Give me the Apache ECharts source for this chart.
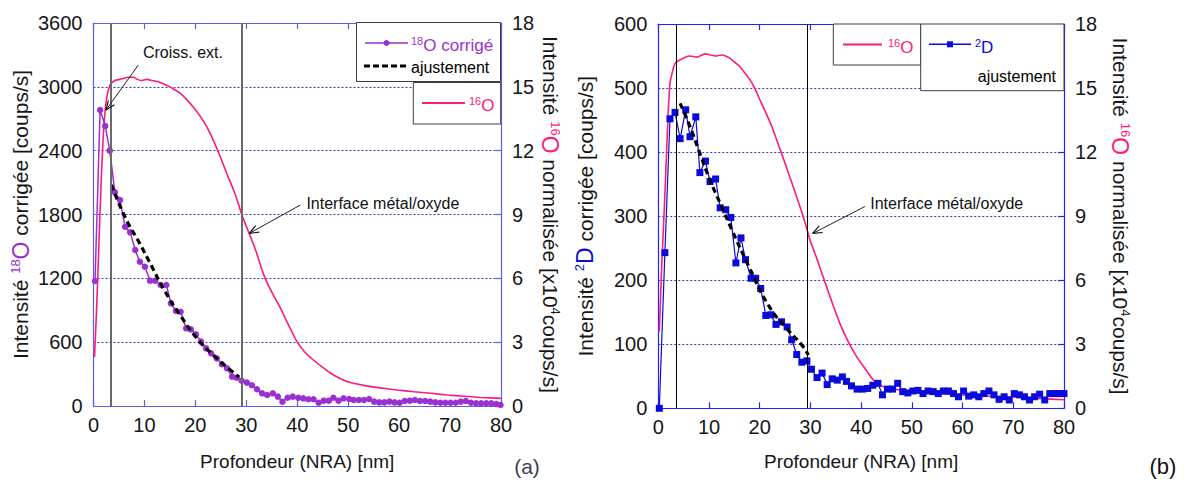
<!DOCTYPE html>
<html><head><meta charset="utf-8">
<script src="https://cdn.jsdelivr.net/npm/echarts@6/dist/echarts.min.js"></script>
<style>html,body{margin:0;padding:0;background:#fff}#c{width:1186px;height:487px}</style>
</head><body><div id="c"></div>
<script>
// ---------- data ----------
const depthTicks = [0, 10, 20, 30, 40, 50, 60, 70, 80];
const leftTicksA = [0, 600, 1200, 1800, 2400, 3000, 3600];
const leftTicksB = [0, 100, 200, 300, 400, 500, 600];
const rightTicks = [0, 3, 6, 9, 12, 15, 18];

// (a) 18O corrigé [coups/s]
const o18A = [[0.3,1175],[1.3,2782],[2.3,2632],[3.2,2400],[4.2,2008],[5.2,1936],[6.2,1685],[7.2,1632],[8.2,1466],[9.1,1356],[10.1,1309],[11.1,1178],[12.1,1178],[13.2,1137],[14.3,1137],[15.2,965],[16.2,893],[17.1,886],[18.2,730],[19.1,720],[20.1,674],[21.1,605],[22.1,542],[23.1,495],[24.2,448],[25.2,392],[26.2,354],[27.2,276],[28.1,266],[29.1,237],[30.1,220],[31.1,195],[32.1,157],[33.1,119],[34.1,103],[35.2,119],[36.2,88],[37.1,40],[38.1,78],[39.1,88],[40.2,78],[41.2,72],[42.2,63],[43.2,63],[44.2,31],[45.2,50],[46.2,50],[47.1,78],[48.1,50],[49.1,72],[50.2,66],[51.1,56],[52.1,56],[53.1,56],[54.1,66],[55.1,41],[56.1,34],[57.1,34],[58.1,41],[59.1,34],[60.1,31],[61.1,47],[62.1,50],[63.1,56],[64.1,47],[65.1,47],[66.1,41],[67.1,34],[68.1,31],[69.1,31],[70.1,31],[71.1,31],[72.1,41],[73.1,47],[74.1,31],[75.1,25],[76.1,25],[77.1,25],[78.1,25],[79.1,19],[79.9,9]];
// (a) ajustement
const fitA = [[3.5,2080],[6.2,1775],[9.1,1525],[11.4,1315],[14.0,1080],[17.0,855],[20.3,636],[24.2,448],[28.6,272]];
// (a) 16O normalisée [x10^4 coups/s]
const o16A = [[0.2,2.3],[0.6,4.5],[1.0,7.2],[1.5,10.5],[2.0,13.0],[2.6,14.5],[3.3,15.1],[4.2,15.3],[5.2,15.35],[6.0,15.4],[6.8,15.45],[7.8,15.45],[8.6,15.35],[9.3,15.3],[10.5,15.35],[11.4,15.3],[12.5,15.25],[13.7,15.15],[15.0,15.0],[16.0,14.85],[17.0,14.7],[18.3,14.4],[19.6,14.05],[21.0,13.6],[22.3,13.1],[23.6,12.45],[24.9,11.7],[26.2,10.9],[27.5,10.15],[28.3,9.6],[29.1,9.0],[30.0,8.45],[31.0,7.85],[32.0,7.2],[33.0,6.45],[33.7,6.0],[35.0,5.35],[36.7,4.6],[38.3,3.8],[40.0,3.0],[41.6,2.5],[43.2,2.15],[44.8,1.85],[46.5,1.55],[48.2,1.32],[49.8,1.15],[53.0,0.97],[56.3,0.85],[59.6,0.75],[62.9,0.67],[66.2,0.6],[69.4,0.52],[72.7,0.46],[76.0,0.4],[80,0.36]];

// (b) 2D corrigé [coups/s]
const d2B = [[0.2,0],[1.3,243],[2.3,452],[3.3,462],[4.3,421],[5.4,466],[6.25,424],[7.4,455],[8.2,368],[9.3,386],[10.2,354],[11.3,358],[12.2,313],[13.3,310],[14.3,298],[15.3,227],[16.3,266],[17.2,232],[18.3,203],[19.2,203],[20.2,187],[21.2,145],[22.2,146],[23.2,131],[24.3,135],[25.4,127],[26.3,107],[27.3,84],[28.3,72],[29.3,74],[30.2,61],[31.3,48],[32.3,55],[33.3,37],[34.3,46],[35.3,44],[36.3,49],[37.1,42],[38.1,35],[39.2,30],[40.3,30],[41.3,31],[42.3,36],[43.3,39],[44.2,21],[45.2,30],[46.2,30],[47.2,39],[48.2,26],[49.2,24],[50.2,27],[51.2,28],[52.2,23],[53.2,27],[54.2,26],[55.2,23],[56.2,27],[57.2,27],[58.2,23],[59.2,18],[60.2,27],[61.2,19],[62.2,21],[63.2,18],[64.2,23],[65.2,27],[66.2,21],[67.2,14],[68.2,18],[69.2,13],[70.2,23],[71.2,21],[72.2,18],[73.2,13],[74.2,18],[75.2,22],[76.2,13],[77.2,23],[78.2,23],[79.2,23],[80,23]];
// (b) ajustement
const fitB = [[4.3,476],[6.25,440],[8.2,398],[10.2,356],[12.2,320],[14.6,277],[17.7,224],[21.7,161],[25.6,122],[28.3,99],[29.6,83]];
// (b) 16O normalisée [x10^4 coups/s]
const o16B = [[0.2,3.6],[0.7,6.8],[1.3,10.0],[1.8,13.0],[2.3,15.2],[3.3,16.15],[4.9,16.4],[6.25,16.5],[7.6,16.45],[9.2,16.6],[10.3,16.55],[11.2,16.5],[12.5,16.55],[14.1,16.4],[15.1,16.2],[16.1,16.0],[17.1,15.7],[18.1,15.38],[19.1,14.95],[20.05,14.44],[21.2,13.85],[22.4,13.19],[24.3,11.94],[26.6,10.38],[28.6,8.97],[29.9,7.9],[31.2,7.05],[32.5,6.16],[34.2,5.0],[35.8,3.98],[37.4,3.15],[39.1,2.42],[40.8,1.85],[42.4,1.33],[44.4,1.01],[47,0.88],[50,0.78],[55,0.7],[60,0.62],[65,0.57],[70,0.53],[75,0.46],[80,0.4]];

// vertical reference lines (depth, nm)
const vLinesA = [3.45, 29.2];
const vLinesB = [3.6, 29.4];
// annotations: [text, textX, textY, arrowFromX, arrowFromY, arrowToX, arrowToY] in data units
const notesA = [["Croiss. ext.", 9.7, 3327, 8.8, 3205, 2.46, 2782], ["Interface métal/oxyde", 41.8, 1905, 40.6, 1889, 30.6, 1623]];
const notesB = [["Interface métal/oxyde", 41.8, 320, 40.75, 315, 30.44, 273]];

// ---------- styling ----------
const FONT = "'Liberation Sans', Arial, Helvetica, sans-serif";
const PURPLE = '#9b30d2', PINK = '#ff1a7a', BLUE = '#0a0adc';
const AXA = '#5c5cef', AXB = '#2222ff', GRIDC = '#3434d4', TXT = '#161616';

const chart = echarts.init(document.getElementById('c'), null, {renderer: 'svg'});
const plain = v => String(v);

function xAxis(gi, pos, col, name, gap) {
  return {
    type: 'value', gridIndex: gi, position: pos, min: 0, max: 80, interval: 10,
    axisLine: {show: true, onZero: false, lineStyle: {color: col, width: 1.2}},
    axisTick: {show: true, inside: true, length: 6, lineStyle: {color: col, width: 1.2}},
    axisLabel: {show: pos === 'bottom', fontFamily: FONT, fontSize: 20, color: TXT, margin: 9, formatter: plain},
    splitLine: {show: false},
    name: name || '', nameLocation: 'middle', nameGap: gap || 0,
    nameTextStyle: {fontFamily: FONT, fontSize: 19, color: TXT}
  };
}
function rich(supColor, mainColor) {
  return {
    t: {fontFamily: FONT, fontSize: 21, color: TXT, lineHeight: 24},
    s: {fontFamily: FONT, fontSize: 13, color: supColor, verticalAlign: 'top', lineHeight: 24},
    c: {fontFamily: FONT, fontSize: 23, color: mainColor, lineHeight: 24},
    k: {fontFamily: FONT, fontSize: 13, color: TXT, verticalAlign: 'top', lineHeight: 24}
  };
}
function yLeft(gi, max, interval, col, name, supCol, gap) {
  return {
    type: 'value', gridIndex: gi, position: 'left', min: 0, max: max, interval: interval,
    axisLine: {show: true, onZero: false, lineStyle: {color: col, width: 1.2}},
    axisTick: {show: false},
    axisLabel: {fontFamily: FONT, fontSize: 20, color: TXT, margin: 11, formatter: plain},
    splitLine: {show: true, lineStyle: {color: GRIDC, width: 1, type: [2, 2]}},
    name: name, nameLocation: 'middle', nameGap: gap,
    nameTextStyle: {fontFamily: FONT, fontSize: 21, color: TXT, rich: rich(supCol, supCol)}
  };
}
function yRight(gi, col, gap) {
  return {
    type: 'value', gridIndex: gi, position: 'right', min: 0, max: 18, interval: 3,
    axisLine: {show: true, onZero: false, lineStyle: {color: col, width: 1.2}},
    axisTick: {show: true, inside: true, length: 6, lineStyle: {color: col, width: 1.2}},
    axisLabel: {fontFamily: FONT, fontSize: 20, color: TXT, margin: 11, formatter: plain},
    splitLine: {show: false},
    name: '{t|Intensité }{s|16}{c|O}{t| normalisée [x10}{k|4}{t|coups/s]}',
    nameLocation: 'middle', nameGap: gap, nameRotate: -90,
    nameTextStyle: {fontFamily: FONT, fontSize: 21, color: TXT, rich: rich(PINK, PINK)}
  };
}
const vMark = (vals, color, w) => ({
  silent: true, symbol: 'none', label: {show: false},
  lineStyle: {color: color, width: w, type: 'solid'},
  emphasis: {disabled: true},
  data: vals.map(v => ({xAxis: v}))
});

const option = {
  animation: false,
  backgroundColor: '#fff',
  textStyle: {fontFamily: FONT},
  grid: [
    {left: 93.5, top: 23, width: 407.5, height: 383},
    {left: 658.3, top: 24, width: 405.7, height: 384.3}
  ],
  xAxis: [
    xAxis(0, 'bottom', AXA, 'Profondeur (NRA) [nm]', 46),
    xAxis(0, 'top', AXA),
    xAxis(1, 'bottom', AXB, 'Profondeur (NRA) [nm]', 44),
    xAxis(1, 'top', AXB)
  ],
  yAxis: [
    yLeft(0, 3600, 600, AXA, '{t|Intensité }{s|18}{c|O}{t| corrigée [coups/s]}', PURPLE, 61),
    yRight(0, AXA, 37),
    yLeft(1, 600, 100, AXB, '{t|Intensité }{s|2}{c|D}{t| corrigée [coups/s]}', BLUE, 61),
    yRight(1, AXB, 44)
  ],
  series: [
    {type: 'line', name: '16O a', xAxisIndex: 0, yAxisIndex: 1, data: o16A, smooth: 0.2,
     showSymbol: false, symbol: 'none', lineStyle: {color: PINK, width: 1.6}, z: 2,
     markLine: vMark(vLinesA, '#6a6a6a', 2)},
    {type: 'line', name: '18O corrigé', xAxisIndex: 0, yAxisIndex: 0, data: o18A,
     symbol: 'circle', symbolSize: 6.5, itemStyle: {color: PURPLE}, lineStyle: {color: PURPLE, width: 1.5}, z: 3},
    {type: 'line', name: 'ajustement a', xAxisIndex: 0, yAxisIndex: 0, data: fitA, smooth: true,
     symbol: 'none', lineStyle: {color: '#000', width: 3.2, type: [6, 4]}, z: 4},
    {type: 'line', name: '16O b', xAxisIndex: 2, yAxisIndex: 3, data: o16B, smooth: 0.2,
     symbol: 'none', lineStyle: {color: PINK, width: 1.6}, z: 2,
     markLine: vMark(vLinesB, '#000', 1)},
    {type: 'line', name: '2D', xAxisIndex: 2, yAxisIndex: 2, data: d2B,
     symbol: 'rect', symbolSize: 7, itemStyle: {color: BLUE}, lineStyle: {color: BLUE, width: 1.2}, z: 3},
    {type: 'line', name: 'ajustement b', xAxisIndex: 2, yAxisIndex: 2, data: fitB, smooth: true,
     symbol: 'none', lineStyle: {color: '#000', width: 3.2, type: [6, 4]}, z: 4}
  ]
};
chart.setOption(option);

// ---------- legends, annotations, panel labels ----------
const g = [];
const supRich = (col) => ({
  s: {fontFamily: FONT, fontSize: 11, fill: col, verticalAlign: 'top', lineHeight: 20},
  n: {fontFamily: FONT, fontSize: 17, fill: col, lineHeight: 20}
});
function box(x, y, w, h) {
  g.push({type: 'rect', z: 100, shape: {x: x, y: y, width: w, height: h},
          style: {fill: '#fff', stroke: '#3c3c3c', lineWidth: 1}});
}
function seg(x1, y1, x2, y2, col, w, dash) {
  g.push({type: 'line', z: 101, shape: {x1: x1, y1: y1, x2: x2, y2: y2},
          style: {stroke: col, lineWidth: w, lineDash: dash || null}});
}
function txt(x, y, t, col, size, align, richObj) {
  const st = {text: t, x: x, y: y, fill: col, fontFamily: FONT, fontSize: size,
              align: align || 'left', verticalAlign: 'middle'};
  if (richObj) st.rich = richObj;
  g.push({type: 'text', z: 102, style: st});
}
// legend (a)
box(356.5, 22.5, 144, 59);
seg(365, 43, 408, 43, PURPLE, 1.5);
g.push({type: 'circle', z: 102, shape: {cx: 386.5, cy: 43, r: 3}, style: {fill: PURPLE}});
txt(411, 45, '{s|18}{n|O corrigé}', PURPLE, 17, 'left', supRich(PURPLE));
seg(364, 66, 408, 66, '#000', 3, [6, 3]);
txt(411, 67, 'ajustement', '#000', 16);
box(413.3, 82.5, 87.4, 41.5);
seg(422, 103, 465, 103, PINK, 2);
txt(469, 105, '{s|16}{n|O}', PINK, 17, 'left', supRich(PINK));
// legend (b)
box(833.3, 24, 87.4, 41);
seg(843, 44.5, 882, 44.5, PINK, 2);
txt(888, 47, '{s|16}{n|O}', PINK, 17, 'left', supRich(PINK));
box(920.7, 24, 143.3, 66.7);
seg(929, 44.3, 971, 44.3, BLUE, 1.5);
g.push({type: 'rect', z: 102, shape: {x: 947, y: 41.3, width: 6, height: 6}, style: {fill: BLUE}});
txt(975, 47, '{s|2}{n|D}', BLUE, 17, 'left', supRich(BLUE));
txt(1056, 76, 'ajustement', '#000', 16, 'right');

function arrow(p1, p2) {
  seg(p1[0], p1[1], p2[0], p2[1], '#222', 1);
  const a = Math.atan2(p1[1] - p2[1], p1[0] - p2[0]);
  const L = 10, s = 0.38;
  for (const d of [-s, s]) {
    seg(p2[0], p2[1], p2[0] + L * Math.cos(a + d), p2[1] + L * Math.sin(a + d), '#111', 1.2);
  }
}
function notes(list, xi, yi) {
  for (const n of list) {
    const tp = chart.convertToPixel({xAxisIndex: xi, yAxisIndex: yi}, [n[1], n[2]]);
    const p1 = chart.convertToPixel({xAxisIndex: xi, yAxisIndex: yi}, [n[3], n[4]]);
    const p2 = chart.convertToPixel({xAxisIndex: xi, yAxisIndex: yi}, [n[5], n[6]]);
    txt(tp[0], tp[1], n[0], '#111', 16);
    arrow(p1, p2);
  }
}
notes(notesA, 0, 0);
notes(notesB, 2, 2);
txt(527, 466, '(a)', '#3a4256', 21, 'center');
txt(1163, 466, '(b)', '#111', 22, 'center');

chart.setOption({graphic: {elements: g}});
</script>
</body></html>
